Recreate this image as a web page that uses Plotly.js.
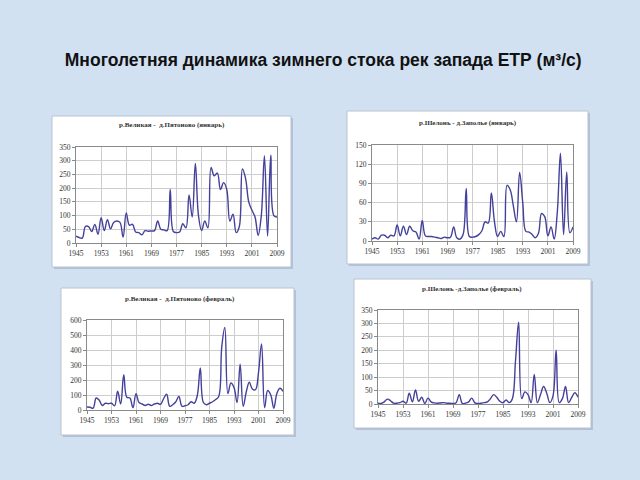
<!DOCTYPE html>
<html><head><meta charset="utf-8">
<script src="https://cdn.plot.ly/plotly-3.0.1.min.js"></script>
<style>
html,body{margin:0;padding:0;width:640px;height:480px;overflow:hidden;background:#d2e1f1;}
#chart{width:640px;height:480px;}
</style></head><body><div id="chart"></div>
<script>
// ---- data ----
const years = [1945,1946,1947,1948,1949,1950,1951,1952,1953,1954,
  1955,1956,1957,1958,1959,1960,1961,1962,1963,1964,
  1965,1966,1967,1968,1969,1970,1971,1972,1973,1974,
  1975,1976,1977,1978,1979,1980,1981,1982,1983,1984,
  1985,1986,1987,1988,1989,1990,1991,1992,1993,1994,
  1995,1996,1997,1998,1999,2000,2001,2002,2003,2004,
  2005,2006,2007,2008,2009];

const velikayaJan = [25,20,18,60,60,42,68,32,92,45,
  85,52,75,80,75,22,110,65,68,40,
  38,30,45,43,44,45,80,50,48,45,
  195,42,38,40,70,55,175,95,290,100,
  45,80,55,275,245,255,195,220,195,80,
  105,38,60,270,235,150,120,95,28,100,
  318,25,320,100,95];

const shelonJan = [3,5,3,9,9,5,9,8,25,8,
  23,10,23,16,14,3,32,8,7,7,
  6,5,4,6,5,6,22,5,3,10,
  82,7,6,7,10,16,30,28,75,30,
  7,15,7,87,80,55,30,107,60,15,
  14,10,5,12,43,38,8,22,3,45,
  137,10,108,13,22];

const velikayaFeb = [20,18,12,80,65,30,45,42,45,28,
  125,40,235,85,80,15,108,50,40,30,
  38,30,40,45,38,75,105,25,35,55,
  90,25,28,35,55,45,95,280,50,35,
  45,55,70,90,420,550,110,180,150,50,
  305,25,120,185,140,135,250,440,15,130,
  100,12,110,145,125];

const shelonFeb = [3,2,8,18,12,3,3,5,10,3,
  40,8,52,10,25,2,22,8,4,3,
  4,5,3,3,2,5,35,2,3,8,
  22,4,2,3,5,8,20,35,25,10,
  5,15,5,20,160,305,20,45,35,5,
  110,5,35,65,40,5,30,200,5,20,
  65,5,25,42,25];

const xTickYears = [1945,1953,1961,1969,1977,1985,1993,2001,2009];
const yTicksVelJan = [0,50,100,150,200,250,300,350];
const yTicksShelJan = [0,30,60,90,120,150];
const yTicksVelFeb = [0,100,200,300,400,500,600];
const yTicksShelFeb = [0,50,100,150,200,250,300,350];

const mainTitle = 'Многолетняя динамика зимнего стока рек запада ЕТР (м³/с)';
const panelTitles = [
  'р.Великая -  д.Пятоново (январь)',
  'р.Шелонь - д.Заполье (январь)',
  'р.Великая -  д.Пятоново (февраль)',
  'р.Шелонь -д.Заполье (февраль)'
];

// ---- layout geometry (pixels) ----
const W = 640, H = 480;
const fx = px => px / W;
const fy = py => 1 - py / H;

const panels = [
  {values: velikayaJan, yTicks: yTicksVelJan, plot: [76,147,277,243], box: [52,116,291,267], tpos: [172,125]},
  {values: shelonJan,   yTicks: yTicksShelJan, plot: [372,145,573,241], box: [347,111,588,264], tpos: [468,123]},
  {values: velikayaFeb, yTicks: yTicksVelFeb, plot: [87,320,283,410], box: [61,288,294,435], tpos: [180,299]},
  {values: shelonFeb,   yTicks: yTicksShelFeb, plot: [378,310,578,404], box: [354,279,591,428], tpos: [472,289]}
];

const lineColor = '#44419a';
const tickFont = {family: 'Liberation Serif, serif', size: 7.5, color: '#333'};

const data = [];
const layout = {
  width: W, height: H,
  margin: {l: 0, r: 0, t: 0, b: 0},
  paper_bgcolor: 'rgba(0,0,0,0)',
  plot_bgcolor: '#ffffff',
  showlegend: false,
  title: {
    text: mainTitle,
    font: {family: 'Liberation Sans, Arial, sans-serif', size: 17.5, color: '#111', weight: 700},
    x: 0.505, xanchor: 'center', xref: 'paper',
    y: fy(60), yanchor: 'middle', yref: 'paper'
  },
  shapes: [],
  annotations: []
};

panels.forEach((p, i) => {
  const n = i === 0 ? '' : String(i + 1);
  data.push({
    x: years, y: p.values,
    xaxis: 'x' + n, yaxis: 'y' + n,
    type: 'scatter', mode: 'lines',
    line: {color: lineColor, width: 1.4, shape: 'spline', smoothing: 1.1},
    hoverinfo: 'skip'
  });
  const yMax = p.yTicks[p.yTicks.length - 1];
  layout['xaxis' + n] = {
    domain: [fx(p.plot[0]), fx(p.plot[2])],
    anchor: 'y' + n,
    range: [xTickYears[0], xTickYears[xTickYears.length - 1]],
    tickvals: xTickYears, ticktext: xTickYears.map(String),
    showgrid: true, gridcolor: '#cdcdcd', gridwidth: 1,
    showline: true, linecolor: '#8a8a8a', linewidth: 1, mirror: true,
    ticks: 'outside', ticklen: 3, tickcolor: '#8a8a8a',
    tickfont: tickFont, zeroline: false, fixedrange: true
  };
  layout['yaxis' + n] = {
    domain: [fy(p.plot[3]), fy(p.plot[1])],
    anchor: 'x' + n,
    range: [0, yMax],
    tickvals: p.yTicks, ticktext: p.yTicks.map(String),
    showgrid: true, gridcolor: '#cdcdcd', gridwidth: 1,
    showline: true, linecolor: '#8a8a8a', linewidth: 1, mirror: true,
    ticks: 'outside', ticklen: 3, tickcolor: '#8a8a8a',
    tickfont: tickFont, zeroline: false, fixedrange: true
  };
  layout.shapes.push({
    type: 'rect', xref: 'paper', yref: 'paper', layer: 'below',
    x0: fx(p.box[0] + 2), x1: fx(p.box[2] + 2), y0: fy(p.box[3] + 2), y1: fy(p.box[1] + 2),
    fillcolor: 'rgba(120,140,165,0.35)', line: {width: 0}
  });
  layout.shapes.push({
    type: 'rect', xref: 'paper', yref: 'paper', layer: 'below',
    x0: fx(p.box[0]), x1: fx(p.box[2]), y0: fy(p.box[3]), y1: fy(p.box[1]),
    fillcolor: '#ffffff', line: {color: '#b9c2cf', width: 1}
  });
  layout.annotations.push({
    text: panelTitles[i], xref: 'paper', yref: 'paper',
    x: fx(p.tpos[0]), y: fy(p.tpos[1]), xanchor: 'center', yanchor: 'middle',
    showarrow: false,
    font: {family: 'Liberation Serif, serif', size: 7, color: '#333', weight: 700}
  });
});

Plotly.newPlot('chart', data, layout, {staticPlot: true, displayModeBar: false});
</script></body></html>
